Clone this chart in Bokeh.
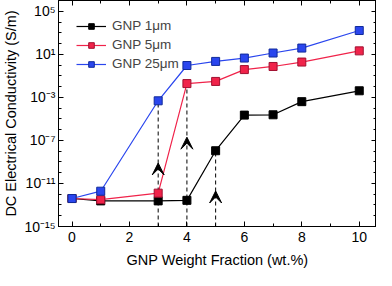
from bokeh.plotting import figure
from bokeh.models import (Range1d, FixedTicker, LogAxis, LinearAxis, Legend, LegendItem,
                          Arrow, VeeHead, ColumnDataSource)
from bokeh.embed import file_html
from bokeh.resources import INLINE

# data (x in wt.%, y as log10 of conductivity S/m)
wt = [0, 1, 3, 4, 5, 6, 7, 8, 10]
log_1um = [-12.4, -12.62, -12.62, -12.57, -7.96, -4.65, -4.62, -3.4, -2.39]
log_5um = [-12.4, -12.51, -11.9, -1.72, -1.52, -0.42, -0.13, 0.28, 1.32]
log_25um = [-12.4, -11.72, -3.32, -0.04, 0.34, 0.65, 1.12, 1.58, 3.21]
series_names = ["GNP 1\u03bcm", "GNP 5\u03bcm", "GNP 25\u03bcm"]
series_colors = ["#000000", "#f0234a", "#2a46ee"]
series_edges = ["#000000", "#a01030", "#102a9a"]

# percolation markers: x position, series index it reaches, arrowhead log height
perc_x = [3, 4, 5]
perc_series = [2, 1, 0]
perc_head_log = [-9.1, -6.7, -11.7]

y_major = [-15, -11, -7, -3, 1, 5]
y_minor = list(range(-15, 7))
x_major = [0, 2, 4, 6, 8, 10]
x_minor = [1, 3, 5, 7, 9]

sup = str.maketrans("-0123456789", "\u207b\u2070\u00b9\u00b2\u00b3\u2074\u2075\u2076\u2077\u2078\u2079")

FONT = "Liberation Sans"

p = figure(width=376, height=270, output_backend="svg", toolbar_location=None,
           y_axis_type="log", x_range=Range1d(-0.47, 10.6), y_range=Range1d(1e-15, 1e6),
           min_border_left=10, min_border_right=0, min_border_top=0, min_border_bottom=0)
p.xgrid.visible = False
p.ygrid.visible = False
p.outline_line_color = "black"
p.outline_line_width = 1

def style_axis(ax, labels=True):
    ax.major_tick_in = 5
    ax.major_tick_out = 0
    ax.minor_tick_in = 3
    ax.minor_tick_out = 0
    ax.axis_line_color = "black"
    ax.major_tick_line_color = "black"
    ax.minor_tick_line_color = "black"
    ax.major_label_text_font = FONT
    ax.major_label_text_font_size = "14px"
    ax.major_label_text_color = "black"
    ax.axis_label_text_font = FONT
    ax.axis_label_text_font_size = "14.5px"
    ax.axis_label_text_font_style = "normal"
    ax.axis_label_text_color = "black"

yt = FixedTicker(ticks=[10.0 ** e for e in y_major], minor_ticks=[10.0 ** e for e in y_minor])
xt = FixedTicker(ticks=x_major, minor_ticks=x_minor)

p.yaxis.ticker = yt
p.yaxis.major_label_overrides = {10.0 ** e: "10" + str(e).translate(sup) for e in y_major}
p.yaxis.axis_label = "DC Electrical Conductivity (S/m)"
p.yaxis.axis_label_standoff = 2
p.yaxis.major_label_standoff = 3
p.xaxis.ticker = xt
p.xaxis.axis_label = "GNP Weight Fraction (wt.%)"
p.xaxis.axis_label_standoff = 7
p.xaxis.major_label_standoff = 5
style_axis(p.yaxis[0])
style_axis(p.xaxis[0])

ra = LogAxis(ticker=FixedTicker(ticks=[10.0 ** e for e in y_major], minor_ticks=[10.0 ** e for e in y_minor]))
ta = LinearAxis(ticker=FixedTicker(ticks=x_major, minor_ticks=x_minor))
for ax in (ra, ta):
    style_axis(ax)
    ax.major_label_text_font_size = "0px"
    ax.major_label_standoff = 0
    ax.axis_label_standoff = 0
ra.major_label_overrides = {10.0 ** e: "" for e in y_major}
ta.major_label_overrides = {t: "" for t in x_major}
p.add_layout(ra, "right")
p.add_layout(ta, "above")

all_logs = [log_1um, log_5um, log_25um]

# percolation dashed lines and arrowheads
for px, si, hl in zip(perc_x, perc_series, perc_head_log):
    top = 10.0 ** all_logs[si][wt.index(px)]
    p.segment(x0=[px], y0=[1e-15], x1=[px], y1=[top], line_color="black",
              line_width=1, line_dash="4 3")
    p.add_layout(Arrow(x_start=px, y_start=10.0 ** (hl - 0.5), x_end=px, y_end=10.0 ** hl,
                       line_alpha=0, end=VeeHead(size=12, fill_color="black",
                                                 line_color="black")))

items = []
for name, logs, col, edge in zip(series_names, all_logs, series_colors, series_edges):
    src = ColumnDataSource(dict(x=wt, y=[10.0 ** v for v in logs]))
    r1 = p.line("x", "y", source=src, line_color=col, line_width=1.2)
    r2 = p.scatter("x", "y", source=src, marker="square", size=8, fill_color=col,
                   line_color=edge, line_width=1)
    items.append(LegendItem(label=name, renderers=[r1, r2]))

leg = Legend(items=items, location="top_left", border_line_alpha=0, background_fill_alpha=0,
             label_text_font=FONT, label_text_font_size="13.5px", glyph_width=30,
             glyph_height=14, spacing=4, padding=6, margin=12, label_standoff=6)
p.add_layout(leg)

open("out.html", "w").write(file_html(p, INLINE))
